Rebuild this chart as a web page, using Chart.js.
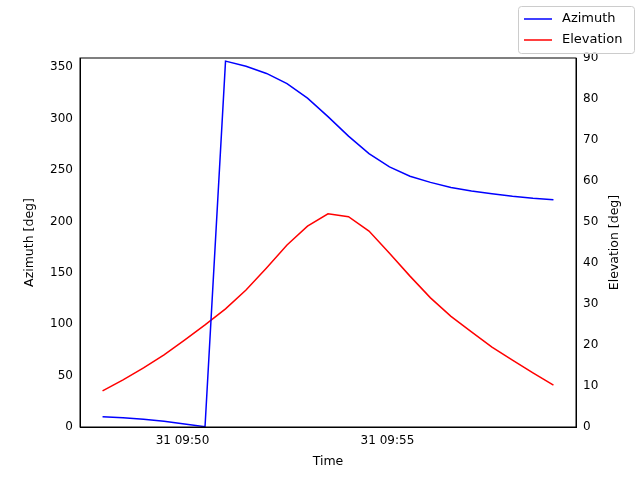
<!DOCTYPE html>
<html>
<head>
<meta charset="utf-8">
<script src="https://cdn.jsdelivr.net/npm/chart.js@4"></script>
<style>
  body { margin: 0; background: #fff; }
  #wrap { width: 640px; height: 480px; }
</style>
</head>
<body>
<div id="wrap"><canvas id="chart" width="640" height="480"></canvas></div>
<script>
// sample times (31st, 09:xx:xx), every 30 s
const times = ["09:48:03", "09:48:33", "09:49:03", "09:49:33", "09:50:03", "09:50:33",
    "09:51:03", "09:51:33", "09:52:03", "09:52:33", "09:53:03", "09:53:33", "09:54:03",
    "09:54:33", "09:55:03", "09:55:33", "09:56:03", "09:56:33", "09:57:03", "09:57:33",
    "09:58:03", "09:58:33", "09:59:03"];
const azimuth = [10, 9, 7.5, 5.5, 3, 0.3, 356, 351, 344, 334, 320, 302, 283, 266, 253,
    244, 238, 233, 229.5, 227, 224.5, 222.5, 221];
const elevation = [8.8, 11.5, 14.4, 17.6, 21.2, 24.9, 28.8, 33.4, 38.8, 44.4, 49, 52, 51.3,
    47.8, 42.4, 36.8, 31.5, 27, 23.2, 19.5, 16.3, 13.2, 10.2];
const timeTicks = ["09:50:00", "09:55:00"];

const toSec = (t) => {
    const [h, m, s] = t.split(":").map(Number);
    return h * 3600 + m * 60 + s;
};
const fmt = (sec) => {
    const h = Math.floor(sec / 3600), m = Math.floor((sec % 3600) / 60);
    return `31 ${String(h).padStart(2, "0")}:${String(m).padStart(2, "0")}`;
};

const xs = times.map(toSec);
const span = xs[xs.length - 1] - xs[0];
const font = {family: "DejaVu Sans", size: 12};

// matplotlib-style legend box in the top-right corner
const legendBox = {
    id: "legendBox",
    afterDraw(chart) {
        const ctx = chart.ctx;
        const x = 518, y = 6, w = 116, h = 47;
        ctx.save();
        ctx.fillStyle = "rgba(255,255,255,0.8)";
        ctx.strokeStyle = "#cccccc";
        ctx.lineWidth = 1;
        ctx.beginPath();
        ctx.roundRect(x + 0.5, y + 0.5, w, h, 3);
        ctx.fill();
        ctx.stroke();
        ctx.font = "13px 'DejaVu Sans'";
        ctx.textBaseline = "middle";
        chart.data.datasets.forEach((ds, i) => {
            const ly = y + 13 + i * 21;
            ctx.strokeStyle = ds.borderColor;
            ctx.lineWidth = 1.5;
            ctx.beginPath();
            ctx.moveTo(x + 6, ly);
            ctx.lineTo(x + 34, ly);
            ctx.stroke();
            ctx.fillStyle = "#000";
            ctx.fillText(ds.label, x + 44, ly);
        });
        ctx.restore();
    }
};

// frame and axis titles, placed like matplotlib
const frame = {
    id: "frame",
    afterDraw(chart) {
        const {ctx, chartArea: a} = chart;
        ctx.save();
        ctx.strokeStyle = "#000";
        ctx.lineWidth = 1;
        ctx.strokeRect(a.left, a.top, a.right - a.left, a.bottom - a.top);
        ctx.fillStyle = "#000";
        ctx.font = "12.5px 'DejaVu Sans'";
        ctx.textAlign = "center";
        ctx.textBaseline = "middle";
        const midY = (a.top + a.bottom) / 2;
        ctx.fillText("Time", (a.left + a.right) / 2, 462);
        ctx.save();
        ctx.translate(30, midY);
        ctx.rotate(-Math.PI / 2);
        ctx.fillText("Azimuth [deg]", 0, 0);
        ctx.restore();
        ctx.save();
        ctx.translate(615, midY);
        ctx.rotate(-Math.PI / 2);
        ctx.fillText("Elevation [deg]", 0, 0);
        ctx.restore();
        ctx.restore();
    }
};

new Chart(document.getElementById("chart").getContext("2d"), {
    type: "line",
    data: {
        datasets: [{
            label: "Azimuth",
            data: xs.map((x, i) => ({x: x, y: azimuth[i]})),
            yAxisID: "y",
            borderColor: "#0000ff", borderWidth: 1.5, pointRadius: 0, fill: false, tension: 0,
        }, {
            label: "Elevation",
            data: xs.map((x, i) => ({x: x, y: elevation[i]})),
            yAxisID: "y2",
            borderColor: "#ff0000", borderWidth: 1.5, pointRadius: 0, fill: false, tension: 0,
        }],
    },
    options: {
        responsive: false,
        animation: false,
        layout: {padding: {top: 58, right: 0, left: 0, bottom: 0}},
        plugins: {legend: {display: false}, tooltip: {enabled: false}},
        scales: {
            x: {
                type: "linear",
                min: xs[0] - span * 0.05, max: xs[xs.length - 1] + span * 0.05,
                afterBuildTicks: (axis) => { axis.ticks = timeTicks.map((t) => ({value: toSec(t)})); },
                afterFit: (axis) => { axis.height = 53; },
                ticks: {callback: (v) => fmt(v), color: "#000", font: font, maxRotation: 0, padding: 3},
                grid: {display: false, drawTicks: true, tickLength: 4, tickColor: "#000"},
                border: {color: "#000"},
            },
            y: {
                position: "left", min: 0, max: 359,
                afterBuildTicks: (axis) => { axis.ticks = [0, 50, 100, 150, 200, 250, 300, 350].map((v) => ({value: v})); },
                afterFit: (axis) => { axis.width = 80; },
                ticks: {color: "#000", font: font, padding: 3},
                grid: {display: false, drawTicks: true, tickLength: 4, tickColor: "#000"},
                border: {color: "#000"},
            },
            y2: {
                position: "right", min: 0, max: 90,
                afterBuildTicks: (axis) => { axis.ticks = [0, 10, 20, 30, 40, 50, 60, 70, 80, 90].map((v) => ({value: v})); },
                afterFit: (axis) => { axis.width = 64; },
                ticks: {color: "#000", font: font, padding: 3},
                grid: {display: false, drawTicks: true, tickLength: 4, tickColor: "#000"},
                border: {color: "#000"},
            },
        },
    },
    plugins: [legendBox, frame],
});
</script>
</body>
</html>
